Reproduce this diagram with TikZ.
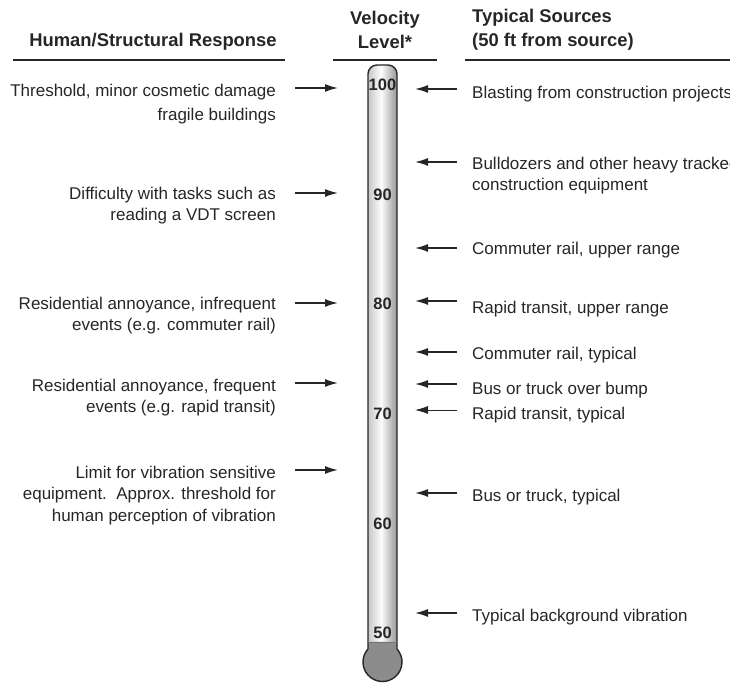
\documentclass[tikz,border=0pt]{standalone}
\usepackage{fontspec}
\setmainfont{Liberation Sans}
\usetikzlibrary{positioning,calc,arrows.meta}

\begin{document}
\begin{tikzpicture}[x=1pt,y=1pt,
    lbl/.style={font=\fontsize{17}{21.5}\selectfont,text=black!85,inner sep=0pt},
    hdr/.style={font=\fontsize{18.4}{24}\selectfont\bfseries,text=black!85,inner sep=0pt},
    lvl/.style={font=\fontsize{16.5}{20}\selectfont\bfseries,text=black!85,inner sep=0pt},
    ptr/.style={-{Latex[length=13pt,width=8pt]},line width=1.5pt,black!85}]

    \useasboundingbox (0,0) rectangle (730,682);

    % headers
    \node[hdr] (hHum) at (153,640) {Human/Structural Response};
    \node[hdr,align=center] (hVel) at (385,652) {Velocity\\Level*};
    \node[hdr,align=left,anchor=west] (hSrc) at (472,652) {Typical Sources\\(50 ft from source)};
    \draw[line width=1.5pt,black!85] (13,622) -- (285,622);
    \draw[line width=1.5pt,black!85] (333,622) -- (437,622);
    \draw[line width=1.5pt,black!85] (465,622) -- (730,622);

    % thermometer
    \begin{scope}
        \clip[rounded corners=9pt] (368,33) -- (368,617) -- (397,617) -- (397,33) -- cycle;
        \foreach \i in {0,...,29}{
            \pgfmathsetmacro\sh{ifthenelse(\i<13,22-21*\i/13,1+40*(\i-13)/16)}
            \fill[black!\sh] (368+\i,33) rectangle (369.2+\i,617);
        }
    \end{scope}
    \fill[black!45] (368,40) -- (397,40) -- (397,33) arc[start angle=41.9,end angle=-221.9,radius=19.5] -- cycle;
    \draw[line width=1.4pt,black!85] (368,33) [rounded corners=9pt] -- (368,617) -- (397,617) [sharp corners] -- (397,33)
        arc[start angle=41.9,end angle=-221.9,radius=19.5];
    \draw[line width=0.6pt,black!55] (368,40) -- (397,40);

    \foreach \v in {100,90,...,50}{
        \node[lvl] (L\v) at (382.5,{597-(100-\v)*10.96}) {\v};
    }

    % human / structural response
    \node[lbl,align=right,anchor=north east] (rThr) at (276,598.4) {Threshold, minor cosmetic damage\\[3pt]fragile buildings};
    \node[lbl,align=right,anchor=north east] (rVdt) at (276,495.4) {Difficulty with tasks such as\\reading a VDT screen};
    \node[lbl,align=right,anchor=north east] (rInf) at (276,385.4) {Residential annoyance, infrequent\\events (e.g. commuter rail)};
    \node[lbl,align=right,anchor=north east] (rFrq) at (276,303.4) {Residential annoyance, frequent\\events (e.g. rapid transit)};
    \node[lbl,align=right,anchor=north east] (rLim) at (276,216.4) {Limit for vibration sensitive\\equipment.\ \ Approx. threshold for\\human perception of vibration};

    \foreach \nn/\yy in {Thr/594,Vdt/489,Inf/379,Frq/299,Lim/212}{
        \draw[ptr] (295,\yy) coordinate(\nn a) -- (338,\yy) coordinate(\nn b);
    }

    % typical sources
    \node[lbl,anchor=north west] (sBla) at (472,596.4) {Blasting from construction projects};
    \node[lbl,align=left,anchor=north west] (sBul) at (472,525.4) {Bulldozers and other heavy tracked\\construction equipment};
    \node[lbl,anchor=north west] (sCru) at (472,440.4) {Commuter rail, upper range};
    \node[lbl,anchor=north west] (sRtu) at (472,381.4) {Rapid transit, upper range};
    \node[lbl,anchor=north west] (sCrt) at (472,335.4) {Commuter rail, typical};
    \node[lbl,anchor=north west] (sBmp) at (472,300.4) {Bus or truck over bump};
    \node[lbl,anchor=north west] (sRtt) at (472,275.4) {Rapid transit, typical};
    \node[lbl,anchor=north west] (sBus) at (472,193.4) {Bus or truck, typical};
    \node[lbl,anchor=north west] (sBgr) at (472,73.4) {Typical background vibration};

    \foreach \nn/\yy in {Bla/593,Bul/520,Cru/434,Rtu/381,Crt/330,Bmp/298,Bus/189,Bgr/69}{
        \draw[ptr] (457,\yy) coordinate(\nn a) -- (415,\yy) coordinate(\nn b);
    }
    \draw[ptr,line width=0.9pt] (457,272) coordinate(Rtta) -- (415,272) coordinate(Rttb);

\end{tikzpicture}
\end{document}
